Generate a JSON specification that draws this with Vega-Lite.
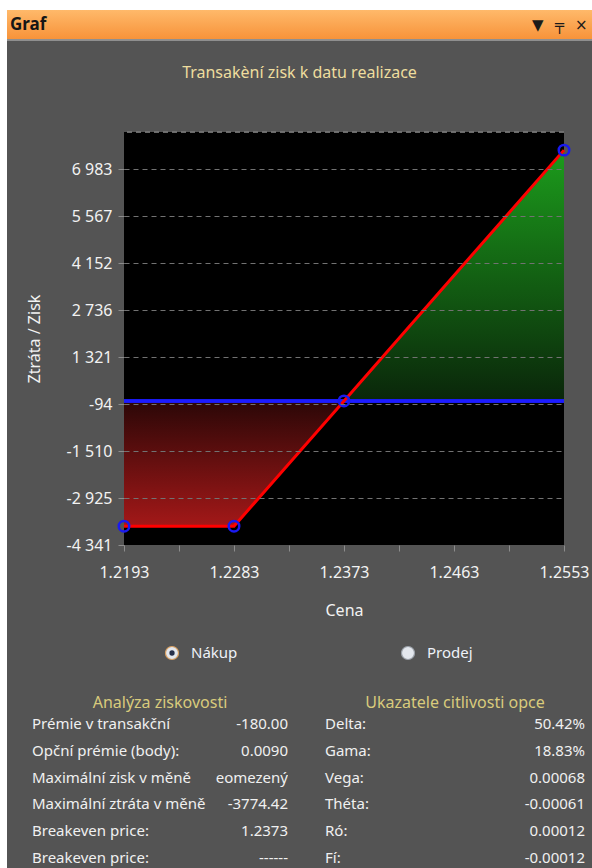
{
  "$schema": "https://vega.github.io/schema/vega-lite/v6.json",
  "background": "#545454",
  "padding": 0,
  "spacing": 0,
  "bounds": "flush",
  "config": {
    "view": {"stroke": null},
    "font": "Noto Sans",
    "concat": {"spacing": 0},
    "title": {"font": "Noto Sans", "fontWeight": "normal", "baseline": "bottom"},
    "axis": {"labelFont": "Noto Sans", "titleFont": "Noto Sans"}
  },
  "datasets": {
    "blank": [{}],
    "pnl": [
      {"cena": 1.2193, "zisk": -3774.42},
      {"cena": 1.2283, "zisk": -3774.42},
      {"cena": 1.2373, "zisk": 0},
      {"cena": 1.2553, "zisk": 7554}
    ],
    "icons": [{"icon": "▼"}, {"icon": "╤"}, {"icon": "×"}],
    "radio": [{"option": "Nákup", "selected": true}, {"option": "Prodej", "selected": false}],
    "analyza": [
      {"row": 1, "label": "Prémie v transakční", "value": "-180.00"},
      {"row": 2, "label": "Opční prémie (body):", "value": "0.0090"},
      {"row": 3, "label": "Maximální zisk v měně", "value": "eomezený"},
      {"row": 4, "label": "Maximální ztráta v měně", "value": "-3774.42"},
      {"row": 5, "label": "Breakeven price:", "value": "1.2373"},
      {"row": 6, "label": "Breakeven price:", "value": "------"}
    ],
    "ukazatele": [
      {"row": 1, "label": "Delta:", "value": "50.42%"},
      {"row": 2, "label": "Gama:", "value": "18.83%"},
      {"row": 3, "label": "Vega:", "value": "0.00068"},
      {"row": 4, "label": "Théta:", "value": "-0.00061"},
      {"row": 5, "label": "Ró:", "value": "0.00012"},
      {"row": 6, "label": "Fí:", "value": "-0.00012"}
    ]
  },
  "hconcat": [
    {"width": 7, "height": 868, "view": {"fill": "#ffffff", "stroke": null}, "data": {"name": "blank"}, "mark": {"type": "text", "text": "", "fontSize": 0}},
    {
      "spacing": 0,
      "bounds": "full",
      "vconcat": [
        {"width": 585, "height": 10, "view": {"fill": "#ffffff", "stroke": null}, "data": {"name": "blank"}, "mark": {"type": "text", "text": "", "fontSize": 0}},
        {
          "spacing": 0,
          "bounds": "flush",
          "hconcat": [
            {
              "width": 520, "height": 29,
              "view": {"stroke": null, "fill": {"gradient": "linear", "x1": 0, "y1": 0, "x2": 0, "y2": 1, "stops": [{"offset": 0, "color": "#ffb96a"}, {"offset": 1, "color": "#f7933a"}]}},
              "title": {"text": "Graf", "anchor": "start", "frame": "group", "fontSize": 17, "fontWeight": "bold", "color": "#161616", "offset": -24, "dx": 3},
              "data": {"name": "blank"},
              "mark": {"type": "text", "text": "", "fontSize": 0}
            },
            {
              "width": 65, "height": 29,
              "view": {"stroke": null, "fill": {"gradient": "linear", "x1": 0, "y1": 0, "x2": 0, "y2": 1, "stops": [{"offset": 0, "color": "#ffb96a"}, {"offset": 1, "color": "#f7933a"}]}},
              "data": {"name": "icons"},
              "mark": {"type": "text", "fontSize": 15, "color": "#1a1a1a", "font": "DejaVu Sans", "baseline": "middle"},
              "encoding": {
                "x": {"field": "icon", "type": "nominal", "scale": {"type": "point", "padding": 0.5, "domain": ["▼", "╤", "×"]}, "axis": null},
                "text": {"field": "icon"}
              }
            }
          ]
        },
        {"width": 585, "height": 2, "view": {"fill": "#8f8f8f", "stroke": null}, "data": {"name": "blank"}, "mark": {"type": "text", "text": "", "fontSize": 0}},
        {
          "width": 585, "height": 90,
          "view": {"fill": "#545454", "stroke": null},
          "data": {"name": "blank"},
          "mark": {"type": "text", "text": "Transakèní zisk k datu realizace", "fontSize": 16, "color": "#eedd9e", "baseline": "middle", "dy": -13}
        },
        {
          "spacing": 0,
          "bounds": "flush",
          "hconcat": [
            {"width": 117, "height": 413, "view": {"fill": "#545454", "stroke": null}, "data": {"name": "blank"}, "mark": {"type": "text", "text": "", "fontSize": 0}},
            {
              "width": 440, "height": 413,
              "view": {"fill": "#000000", "stroke": null},
              "data": {"name": "pnl"},
              "layer": [
                {
                  "transform": [{"filter": "datum.zisk <= 0"}],
                  "mark": {"type": "area", "fill": {"gradient": "linear", "x1": 0, "y1": 0, "x2": 0, "y2": 1, "stops": [{"offset": 0, "color": "#2b0707"}, {"offset": 1, "color": "#a31818"}]}},
                  "encoding": {
                    "x": {
                      "field": "cena", "type": "quantitative", "title": "Cena",
                      "scale": {"domain": [1.2193, 1.2553], "nice": false, "zero": false},
                      "axis": {
                        "values": [1.2193, 1.22155, 1.2238, 1.22605, 1.2283, 1.23055, 1.2328, 1.23505, 1.2373, 1.23955, 1.2418, 1.24405, 1.2463, 1.24855, 1.2508, 1.25305, 1.2553],
                        "labelExpr": "round((datum.value - 1.2193) / 0.00225) % 4 == 0 ? format(datum.value, '.4f') : ''",
                        "grid": false, "domain": false,
                        "tickSize": 6, "tickColor": "#8c8c8c",
                        "labelColor": "#f2f2f2", "labelFontSize": 16, "labelPadding": 13,
                        "labelOverlap": false, "labelFlush": false, "labelBound": false,
                        "titleColor": "#f2f2f2", "titleFontSize": 16, "titleFontWeight": "normal", "titlePadding": 22
                      }
                    },
                    "y": {
                      "field": "zisk", "type": "quantitative", "title": "Ztráta / Zisk",
                      "scale": {"domain": [-4341, 8100], "nice": false, "zero": false},
                      "axis": {
                        "values": [-4341, -3633.25, -2925.5, -2217.75, -1510, -802.25, -94.5, 613.25, 1321, 2028.75, 2736.5, 3444.25, 4152, 4859.75, 5567.5, 6275.25, 6983, 7690.75],
                        "labelExpr": "round((datum.value + 4341) / 707.75) % 2 != 0 ? '' : (datum.value < 0 ? '-' : '') + replace(format(floor(abs(datum.value)), ',d'), ',', ' ')",
                        "grid": true, "gridDash": [5, 4], "gridColor": "#727272", "gridWidth": 1,
                        "gridOpacity": {"condition": {"test": "datum.value > -4000 && round((datum.value + 4341) / 707.75) % 2 == 0", "value": 1}, "value": 0},
                        "domain": false, "zindex": 1,
                        "tickSize": 6, "tickColor": "#8c8c8c",
                        "labelColor": "#f2f2f2", "labelFontSize": 16, "labelPadding": 6,
                        "labelOverlap": false, "labelFlush": false, "labelBound": false,
                        "titleColor": "#f2f2f2", "titleFontSize": 16, "titleFontWeight": "normal",
                        "titleX": -90, "titleBaseline": "middle"
                      }
                    },
                    "y2": {"datum": 0}
                  }
                },
                {
                  "transform": [{"filter": "datum.zisk >= 0"}],
                  "mark": {"type": "area", "fill": {"gradient": "linear", "x1": 0, "y1": 0, "x2": 0, "y2": 1, "stops": [{"offset": 0, "color": "#1c9c1c"}, {"offset": 1, "color": "#0a260a"}]}},
                  "encoding": {
                    "x": {"field": "cena", "type": "quantitative"},
                    "y": {"field": "zisk", "type": "quantitative"},
                    "y2": {"datum": 0}
                  }
                },
                {
                  "mark": {"type": "rule", "color": "#727272", "strokeWidth": 1, "strokeDash": [5, 4]},
                  "encoding": {"y": {"datum": 8100}}
                },
                {
                  "mark": {"type": "rule", "color": "#1c1cff", "strokeWidth": 3},
                  "encoding": {"y": {"datum": 0}}
                },
                {
                  "mark": {"type": "line", "color": "#ff0000", "strokeWidth": 3},
                  "encoding": {
                    "x": {"field": "cena", "type": "quantitative"},
                    "y": {"field": "zisk", "type": "quantitative"}
                  }
                },
                {
                  "mark": {"type": "point", "filled": false, "color": "#1a1af0", "strokeWidth": 2.5, "size": 110, "opacity": 1},
                  "encoding": {
                    "x": {"field": "cena", "type": "quantitative"},
                    "y": {"field": "zisk", "type": "quantitative"}
                  }
                }
              ]
            }
          ]
        },
        {"width": 585, "height": 25, "view": {"fill": "#545454", "stroke": null}, "data": {"name": "blank"}, "mark": {"type": "text", "text": "", "fontSize": 0}},
        {
          "spacing": 0,
          "bounds": "flush",
          "hconcat": [
            {"width": 165, "height": 20, "view": {"fill": "#545454", "stroke": null}, "data": {"name": "blank"}, "mark": {"type": "text", "text": "", "fontSize": 0}},
            {
              "width": 236, "height": 20,
              "data": {"name": "radio"},
              "encoding": {
                "x": {"field": "option", "type": "nominal", "scale": {"type": "point", "padding": 0, "domain": ["Nákup", "Prodej"]}, "axis": null}
              },
              "layer": [
                {
                  "mark": {"type": "point", "filled": true, "fill": "#e3e7ed", "strokeWidth": 1.2, "size": 170, "opacity": 1},
                  "encoding": {
                    "stroke": {"condition": {"test": "datum.selected", "value": "#d9a062"}, "value": "#9aa0a8"}
                  }
                },
                {
                  "transform": [{"filter": "datum.selected"}],
                  "mark": {"type": "point", "filled": true, "color": "#26304a", "size": 28, "opacity": 1}
                },
                {
                  "mark": {"type": "text", "align": "left", "baseline": "middle", "dx": 19, "fontSize": 15, "color": "#eef2f8"},
                  "encoding": {"text": {"field": "option"}}
                }
              ]
            }
          ]
        },
        {"width": 585, "height": 28, "view": {"fill": "#545454", "stroke": null}, "data": {"name": "blank"}, "mark": {"type": "text", "text": "", "fontSize": 0}},
        {
          "spacing": 0,
          "bounds": "flush",
          "hconcat": [
            {"width": 25, "height": 167, "view": {"fill": "#545454", "stroke": null}, "data": {"name": "blank"}, "mark": {"type": "text", "text": "", "fontSize": 0}},
            {
              "width": 256, "height": 167,
              "data": {"name": "analyza"},
              "layer": [
                {
                  "mark": {"type": "text", "align": "left", "baseline": "middle", "fontSize": 15, "color": "#f0f0f0"},
                  "encoding": {
                    "x": {"datum": "label", "type": "nominal", "scale": {"type": "point", "padding": 0, "domain": ["label", "value"]}, "axis": null},
                    "y": {"field": "row", "type": "ordinal", "scale": {"type": "point", "padding": 0.616, "align": 1}, "axis": null},
                    "text": {"field": "label"}
                  }
                },
                {
                  "mark": {"type": "text", "align": "right", "baseline": "middle", "fontSize": 15, "color": "#f0f0f0"},
                  "encoding": {
                    "x": {"datum": "value", "type": "nominal"},
                    "y": {"field": "row", "type": "ordinal"},
                    "text": {"field": "value"}
                  }
                },
                {
                  "data": {"values": [{"header": "Analýza ziskovosti"}]},
                  "mark": {"type": "text", "align": "center", "baseline": "middle", "fontSize": 16, "color": "#d9cb7c", "dy": -21},
                  "encoding": {
                    "y": {"datum": 1, "type": "ordinal"},
                    "text": {"field": "header"}
                  }
                }
              ]
            },
            {"width": 37, "height": 167, "view": {"fill": "#545454", "stroke": null}, "data": {"name": "blank"}, "mark": {"type": "text", "text": "", "fontSize": 0}},
            {
              "width": 260, "height": 167,
              "data": {"name": "ukazatele"},
              "layer": [
                {
                  "mark": {"type": "text", "align": "left", "baseline": "middle", "fontSize": 15, "color": "#f0f0f0"},
                  "encoding": {
                    "x": {"datum": "label", "type": "nominal", "scale": {"type": "point", "padding": 0, "domain": ["label", "value"]}, "axis": null},
                    "y": {"field": "row", "type": "ordinal", "scale": {"type": "point", "padding": 0.616, "align": 1}, "axis": null},
                    "text": {"field": "label"}
                  }
                },
                {
                  "mark": {"type": "text", "align": "right", "baseline": "middle", "fontSize": 15, "color": "#f0f0f0"},
                  "encoding": {
                    "x": {"datum": "value", "type": "nominal"},
                    "y": {"field": "row", "type": "ordinal"},
                    "text": {"field": "value"}
                  }
                },
                {
                  "data": {"values": [{"header": "Ukazatele citlivosti opce"}]},
                  "mark": {"type": "text", "align": "center", "baseline": "middle", "fontSize": 16, "color": "#d9cb7c", "dy": -21},
                  "encoding": {
                    "y": {"datum": 1, "type": "ordinal"},
                    "text": {"field": "header"}
                  }
                }
              ]
            }
          ]
        },
        {"width": 585, "height": 6, "view": {"fill": "#545454", "stroke": null}, "data": {"name": "blank"}, "mark": {"type": "text", "text": "", "fontSize": 0}}
      ]
    }
  ]
}
